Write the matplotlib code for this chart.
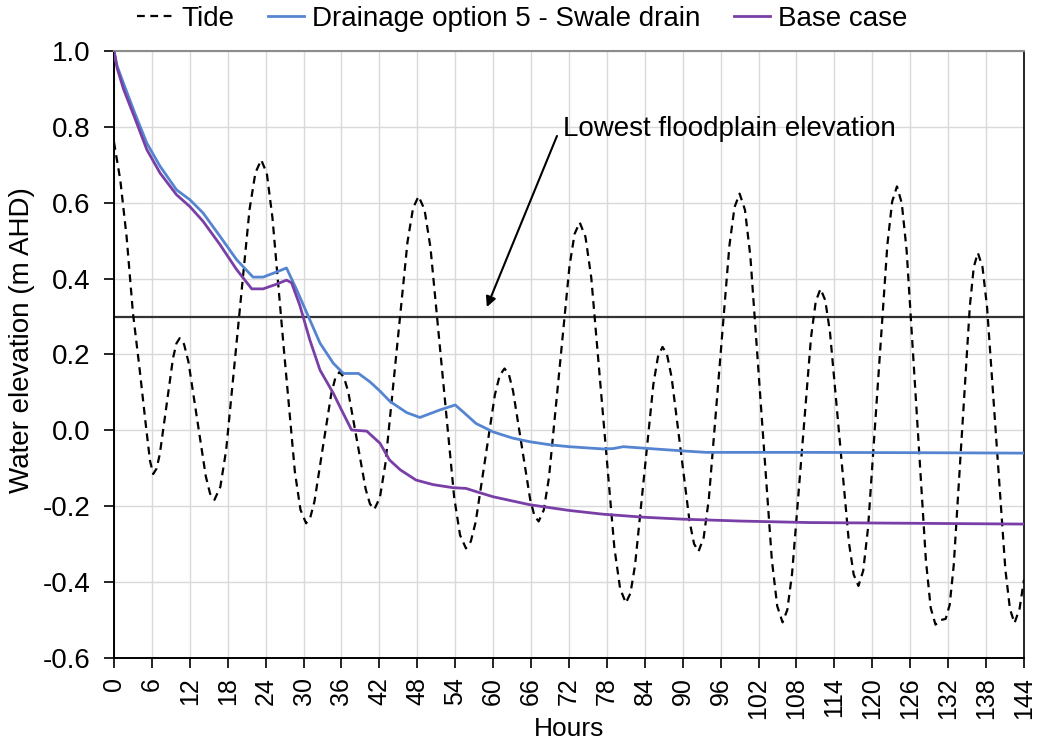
import matplotlib
matplotlib.use("Agg")
import matplotlib.pyplot as plt
from matplotlib.ticker import MultipleLocator, FormatStrFormatter

plt.rcParams['font.family'] = ['Liberation Sans', 'DejaVu Sans']
plt.rcParams['axes.unicode_minus'] = False

# ---- data ----
tide_t = [0, 1.0, 2.0, 3.0, 4.0, 5.0, 5.7, 6.2,
          6.73, 7.25, 8.3, 9.35, 9.88, 10.4,
          11.09, 11.78, 13.15, 14.53, 15.21, 15.9,
          16.83, 17.75, 19.6, 21.45, 22.38, 23.3,
          24.19, 25.08, 26.85, 28.63, 29.51, 30.4,
          31.06, 31.73, 33.05, 34.38, 35.04, 35.7,
          36.39, 37.08, 38.45, 39.83, 40.51, 41.2,
          42.08, 42.95, 44.7, 46.45, 47.33, 48.2,
          49.14, 50.08, 51.95, 53.83, 54.76, 55.7,
          56.46, 57.23, 58.75, 60.28, 61.04, 61.8,
          62.48, 63.15, 64.5, 65.85, 66.53, 67.2,
          68.01, 68.83, 70.45, 72.08, 72.89, 73.7,
          74.61, 75.53, 77.35, 79.18, 80.09, 81.0,
          81.73, 82.45, 83.9, 85.35, 86.08, 86.8,
          87.51, 88.23, 89.65, 91.08, 91.79, 92.5,
          93.31, 94.13, 95.75, 97.38, 98.19, 99.0,
          99.85, 100.7, 102.4, 104.1, 104.95, 105.8,
          106.55, 107.3, 108.8, 110.3, 111.05, 111.8,
          112.55, 113.3, 114.8, 116.3, 117.05, 117.8,
          118.56, 119.33, 120.85, 122.38, 123.14, 123.9,
          124.66, 125.43, 126.95, 128.48, 129.24, 130.0, 130.8, 131.6,
          132.24, 132.88, 134.15, 135.43, 136.06, 136.7,
          137.43, 138.15, 139.6, 141.05, 141.78, 142.5, 143.3, 144.0]
tide_v = [0.76, 0.66, 0.51, 0.31, 0.17, 0.02, -0.08, -0.115,
          -0.101, -0.063, 0.064, 0.191, 0.229, 0.243,
          0.227, 0.181, 0.030, -0.121, -0.167, -0.183,
          -0.149, -0.052, 0.265, 0.582, 0.679, 0.713,
          0.677, 0.56, 0.22, -0.11, -0.209, -0.245,
          -0.230, -0.187, -0.045, 0.096, 0.139, 0.154,
          0.140, 0.101, -0.027, -0.155, -0.194, -0.208,
          -0.177, -0.088, 0.205, 0.497, 0.586, 0.617,
          0.582, 0.482, 0.153, -0.176, -0.276, -0.311,
          -0.293, -0.242, -0.074, 0.094, 0.145, 0.163,
          0.148, 0.104, -0.039, -0.181, -0.225, -0.240,
          -0.210, -0.125, 0.154, 0.433, 0.518, 0.548,
          0.510, 0.402, 0.047, -0.309, -0.417, -0.455,
          -0.429, -0.356, -0.118, 0.121, 0.194, 0.220,
          0.200, 0.141, -0.050, -0.240, -0.299, -0.319,
          -0.283, -0.181, 0.153, 0.486, 0.588, 0.624,
          0.581, 0.459, 0.059, -0.341, -0.463, -0.506,
          -0.473, -0.378, -0.067, 0.245, 0.340, 0.373,
          0.343, 0.259, -0.019, -0.296, -0.380, -0.410,
          -0.370, -0.256, 0.117, 0.489, 0.603, 0.643,
          0.599, 0.474, 0.066, -0.343, -0.468, -0.512, -0.500, -0.497,
          -0.460, -0.356, -0.015, 0.327, 0.431, 0.468,
          0.431, 0.326, -0.020, -0.366, -0.471, -0.508, -0.47, -0.394]

swale_t = [0, 0.5, 1.5, 3.3, 5.2, 7.3, 9.9, 12.0, 14.1, 16.8, 19.4, 22.0, 23.6,
           25.5, 27.3, 28.9, 30.5, 31.0, 32.6, 34.7, 36.3, 38.7, 40.5, 42.0,
           43.7, 46.3, 48.4, 51.6, 54.0, 55.5, 57.3, 60.0, 63.0, 65.8, 69.0,
           72.0, 77.4, 79.0, 80.6, 83.9, 89.9, 93.7, 110, 130, 144]
swale_v = [1.0, 0.96, 0.915, 0.836, 0.757, 0.696, 0.634, 0.608, 0.573, 0.511, 0.45,
           0.404, 0.404, 0.416, 0.428, 0.371, 0.31, 0.291, 0.23, 0.177, 0.150,
           0.150, 0.128, 0.105, 0.076, 0.047, 0.034, 0.054, 0.067, 0.045, 0.018,
           -0.004, -0.02, -0.03, -0.038, -0.043, -0.049, -0.048, -0.043, -0.047,
           -0.054, -0.058, -0.058, -0.059, -0.060]

base_t = [0, 0.5, 1.5, 3.3, 5.2, 7.3, 9.9, 12.0, 14.1, 16.8, 19.4, 21.8, 23.6,
          25.5, 27.3, 28.1, 29.4, 31.0, 32.6, 34.7, 36.0, 37.6, 40.0, 42.1, 43.6,
          45.3, 47.8, 50.5, 53.6, 55.7, 58.0, 60.0, 65.8, 72.0, 77.4, 83.9, 89.9,
          99.1, 110, 127.3, 144]
base_v = [1.0, 0.955, 0.90, 0.823, 0.74, 0.678, 0.621, 0.59, 0.551, 0.489, 0.424,
          0.373, 0.373, 0.384, 0.396, 0.389, 0.33, 0.238, 0.159, 0.098, 0.054,
          0.001, -0.002, -0.034, -0.078, -0.104, -0.131, -0.143, -0.151, -0.153,
          -0.165, -0.175, -0.196, -0.211, -0.221, -0.229, -0.234, -0.239, -0.243,
          -0.245, -0.247]

floodplain_level = 0.3
x_ticks = list(range(0, 145, 6))

FS = 20

# ---- figure ----
fig = plt.figure(figsize=(10.38, 7.42), dpi=100)
ax = fig.add_axes([0.1098, 0.1132, 0.8767, 0.8181])

ax.grid(True, color='#d9d9d9', linewidth=1.0)
ax.set_axisbelow(True)

ax.axhline(floodplain_level, color='#333333', linewidth=1.6, zorder=2)
l_tide, = ax.plot(tide_t, tide_v, color='black', linewidth=1.6,
                  linestyle=(0, (3.5, 2.5)), label='Tide', zorder=3)
l_swale, = ax.plot(swale_t, swale_v, color='#5585d0', linewidth=2.0,
                   label='Drainage option 5 - Swale drain', zorder=4)
l_base, = ax.plot(base_t, base_v, color='#7a3fa6', linewidth=2.0,
                  label='Base case', zorder=4)

ax.set_xlim(0, 144)
ax.set_ylim(-0.6, 1.0)
ax.set_xticks(x_ticks)
ax.set_xticklabels([str(v) for v in x_ticks], rotation=90)
ax.yaxis.set_major_locator(MultipleLocator(0.2))
ax.yaxis.set_major_formatter(FormatStrFormatter('%.1f'))
ax.tick_params(axis='both', direction='out', length=7, width=1.2,
               color='black')
ax.tick_params(axis='y', pad=10, labelsize=FS)
ax.tick_params(axis='x', pad=7, labelsize=18)

for side in ['left', 'bottom']:
    ax.spines[side].set_color('black')
    ax.spines[side].set_linewidth(1.4)
ax.spines['right'].set_color('black')
ax.spines['right'].set_linewidth(1.2)
ax.spines['top'].set_color('#8c8c8c')
ax.spines['top'].set_linewidth(1.5)

# annotation
ax.annotate('', xy=(59.0, 0.325), xytext=(70.1, 0.776),
            arrowprops=dict(arrowstyle='-|>', color='black', lw=1.5,
                            mutation_scale=15, shrinkA=0, shrinkB=0))
ax.text(71.1, 0.777, 'Lowest floodplain elevation', fontsize=FS,
        ha='left', va='baseline')

fig.text(0.021, 0.542, 'Water elevation (m AHD)', rotation=90, fontsize=20,
         ha='center', va='center')
fig.text(0.548, 0.0075, 'Hours', fontsize=19, ha='center', va='baseline')

fig.legend(handles=[l_tide, l_swale, l_base], loc='center',
           bbox_to_anchor=(0.503, 0.975), ncol=3, frameon=False, fontsize=FS,
           handlelength=1.3, handletextpad=0.3, columnspacing=1.2)

fig.savefig('out.png', dpi=100)
